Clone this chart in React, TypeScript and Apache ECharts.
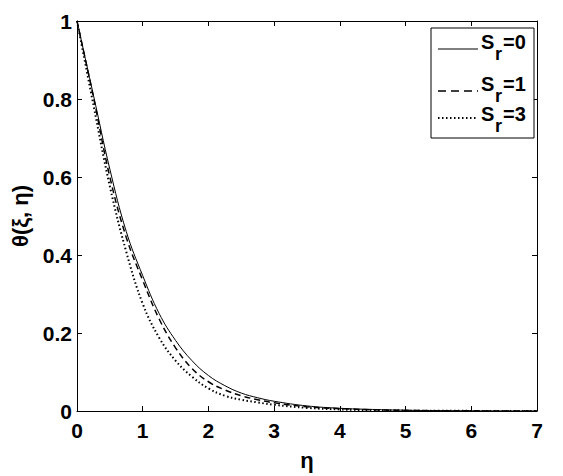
import React, { useEffect, useRef } from "react";
import * as echarts from "echarts";

const eta = [0, 0.25, 0.5, 0.75, 1, 1.25, 1.5, 1.75, 2, 2.25, 2.5, 2.75, 3, 3.5, 4, 4.5, 5, 5.5, 6, 6.5, 7];
const sr0 = [1, 0.81, 0.62, 0.46, 0.347, 0.25, 0.181, 0.129, 0.091, 0.065, 0.046, 0.034, 0.025, 0.013, 0.007, 0.004, 0.002, 0.001, 0.0005, 0.0002, 0];
const sr1 = [1, 0.805, 0.6, 0.445, 0.335, 0.236, 0.162, 0.109, 0.075, 0.054, 0.039, 0.029, 0.021, 0.011, 0.006, 0.003, 0.0015, 0.0008, 0.0004, 0.0002, 0];
const sr3 = [1, 0.785, 0.576, 0.408, 0.275, 0.188, 0.129, 0.088, 0.058, 0.039, 0.029, 0.022, 0.016, 0.008, 0.004, 0.002, 0.001, 0.0005, 0.0003, 0.0001, 0];
const legendNames = ["0", "1", "3"];

const FONT = '"Liberation Sans", Arial, Helvetica, sans-serif';

function pairs(ys: number[]) {
  return eta.map((x, i) => [x, ys[i]]);
}

export default function App() {
  const ref = useRef<HTMLDivElement>(null);
  useEffect(() => {
    if (!ref.current) return;
    const chart = echarts.init(ref.current, undefined, { renderer: "svg" });
    const tickLabel = { color: "#000", fontFamily: FONT, fontWeight: "bold" as const, fontSize: 21 };
    const axisBase = {
      type: "value" as const,
      axisLine: { show: true, onZero: false, lineStyle: { color: "#000", width: 1 } },
      axisTick: { show: true, inside: true, length: 5, lineStyle: { color: "#000" } },
      splitLine: { show: false },
    };
    const lineSeries = (name: string, ys: number[], type: any, width: number) => ({
      type: "line",
      name,
      data: pairs(ys),
      showSymbol: false,
      smooth: 0.4,
      lineStyle: { color: "#000", width, type },
      xAxisIndex: 0,
      yAxisIndex: 0,
    });
    const rows = [
      { line: 49, s: 42, r: 54, dash: null as any, w: 1.2 },
      { line: 91, s: 84, r: 96, dash: [8, 5], w: 1.5 },
      { line: 118, s: 114, r: 126, dash: [1.5, 2.5], w: 2 },
    ];
    const legendEls: any[] = [
      {
        type: "rect",
        shape: { x: 431, y: 28, width: 103, height: 110 },
        style: { fill: "#fff", stroke: "#000", lineWidth: 1 },
        z: 100,
      },
    ];
    rows.forEach((r, i) => {
      legendEls.push({
        type: "line",
        shape: { x1: 438, y1: r.line, x2: 478, y2: r.line },
        style: { stroke: "#000", lineWidth: r.w, lineDash: r.dash || undefined },
        z: 101,
      });
      legendEls.push({
        type: "text",
        x: 481,
        y: r.s,
        style: { text: "S", font: `bold 20px ${FONT}`, fill: "#000", verticalAlign: "middle", align: "left" },
        z: 101,
      });
      legendEls.push({
        type: "text",
        x: 495,
        y: r.r,
        style: { text: "r", font: `bold 18px ${FONT}`, fill: "#000", verticalAlign: "middle", align: "left" },
        z: 101,
      });
      legendEls.push({
        type: "text",
        x: 503,
        y: r.s,
        style: { text: "=" + legendNames[i], font: `bold 20px ${FONT}`, fill: "#000", verticalAlign: "middle", align: "left" },
        z: 101,
      });
    });
    chart.setOption({
      animation: false,
      backgroundColor: "#fff",
      grid: { left: 77, top: 21, right: 26, bottom: 65, containLabel: false },
      xAxis: [
        {
          ...axisBase,
          position: "bottom",
          min: 0,
          max: 7,
          interval: 1,
          axisLabel: { ...tickLabel, margin: 9 },
          name: "η",
          nameLocation: "middle",
          nameGap: 38,
          nameTextStyle: { color: "#000", fontFamily: FONT, fontSize: 22, fontWeight: "bold" },
        },
        {
          ...axisBase,
          position: "top",
          min: 0,
          max: 7,
          interval: 1,
          axisLabel: { show: false },
        },
      ],
      yAxis: [
        {
          ...axisBase,
          position: "left",
          min: 0,
          max: 1,
          interval: 0.2,
          axisLabel: { ...tickLabel, margin: 5 },
          name: "θ(ξ, η)",
          nameLocation: "middle",
          nameRotate: 90,
          nameGap: 34,
          nameTextStyle: { color: "#000", fontFamily: FONT, fontSize: 22, fontWeight: "bold" },
        },
        {
          ...axisBase,
          position: "right",
          min: 0,
          max: 1,
          interval: 0.2,
          axisLabel: { show: false },
        },
      ],
      series: [
        lineSeries("Sr=0", sr0, "solid", 1),
        lineSeries("Sr=1", sr1, [6, 4], 1.5),
        lineSeries("Sr=3", sr3, [1.5, 2.5], 2),
      ],
      graphic: legendEls,
    });
    return () => chart.dispose();
  }, []);
  return <div ref={ref} style={{ position: "absolute", left: 0, top: 0, width: 563, height: 476 }} />;
}
